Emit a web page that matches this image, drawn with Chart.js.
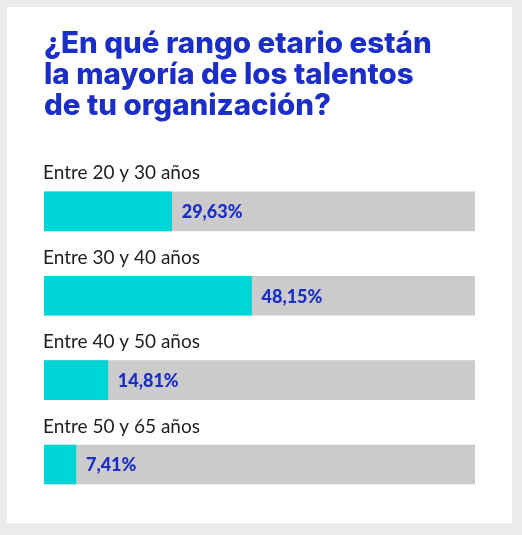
<!DOCTYPE html>
<html>
<head>
<meta charset="utf-8">
<script src="https://cdn.jsdelivr.net/npm/chart.js@4"></script>
<style>
  html, body { margin: 0; padding: 0; background: #ebebeb; width: 522px; height: 535px; overflow: hidden; }
  #card { position: absolute; left: 7px; top: 7px; width: 505px; height: 516px; background: #ffffff; }
  canvas { display: block; }
</style>
</head>
<body>
<div id="card"><canvas id="c"></canvas></div>
<script>
const titleLines = ["¿En qué rango etario están", "la mayoría de los talentos", "de tu organización?"];
const categories = ["Entre 20 y 30 años", "Entre 30 y 40 años", "Entre 40 y 50 años", "Entre 50 y 65 años"];
const values = [29.63, 48.15, 14.81, 7.41];
const trackValues = [100, 100, 100, 100];

const BLUE = "#1b2ec8";
const TEAL = "#00d5d5";
const GRAY = "#cbcbcb";

const labelPlugin = {
  id: "labels",
  afterDatasetsDraw(chart) {
    const ctx = chart.ctx;
    const xs = chart.scales.x;
    const meta = chart.getDatasetMeta(0);
    ctx.save();
    categories.forEach((cat, i) => {
      const bar = meta.data[i];
      const yc = bar.y;
      const top = yc - bar.height / 2;
      ctx.font = "19px Lato";
      ctx.fillStyle = "#1e1e1e";
      ctx.textAlign = "left";
      ctx.textBaseline = "alphabetic";
      ctx.fillText(cat, chart.chartArea.left - 1, top - 12.5);
      ctx.font = "900 18px Lato";
      ctx.fillStyle = BLUE;
      ctx.textBaseline = "middle";
      const txt = values[i].toFixed(2).replace(".", ",") + "%";
      ctx.fillText(txt, xs.getPixelForValue(values[i]) + 10, yc + 1);
    });
    ctx.restore();
  }
};

new Chart(document.getElementById("c"), {
  type: "bar",
  data: {
    labels: categories,
    datasets: [
      { data: values, backgroundColor: TEAL, grouped: false, barThickness: 39, borderWidth: 0 },
      { data: trackValues, backgroundColor: GRAY, grouped: false, barThickness: 39, borderWidth: 0 }
    ]
  },
  options: {
    indexAxis: "y",
    responsive: true,
    maintainAspectRatio: false,
    animation: false,
    layout: { padding: { left: 37, right: 37, top: 0, bottom: 16.3 } },
    scales: {
      x: { display: false, min: 0, max: 100 },
      y: { display: false }
    },
    plugins: {
      legend: { display: false },
      tooltip: { enabled: false },
      title: {
        display: true,
        text: titleLines,
        align: "start",
        color: BLUE,
        font: { family: "Inter", size: 29.5, weight: 800, lineHeight: 1.05 },
        padding: { top: 22, bottom: 47.3 }
      }
    }
  },
  plugins: [labelPlugin]
});
</script>
</body>
</html>
